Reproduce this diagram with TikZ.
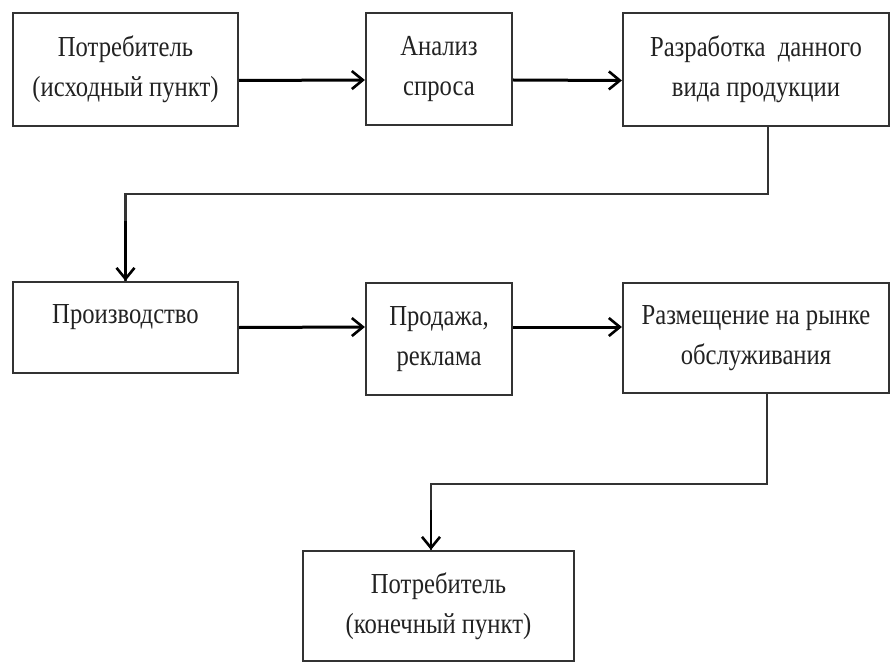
\documentclass[tikz,border=0pt]{standalone}
\usepackage{fontspec}
\setmainfont[FakeStretch=0.85]{Liberation Serif}
\usetikzlibrary{arrows.meta}
\definecolor{boxline}{HTML}{333333}
\definecolor{txt}{HTML}{222222}
\tikzset{
  box/.style={draw=boxline, line width=2.2pt, rectangle, inner sep=0pt, align=center,
    text=txt, font=\fontsize{29}{40}\selectfont},
  arr/.style={draw=black, line width=3pt, -{Straight Barb[length=11pt,width=18pt,line width=2.6pt]}},
  conn/.style={draw=boxline, line width=2.4pt},
}
\begin{document}
\begin{tikzpicture}[x=1pt,y=-1pt]
\useasboundingbox[fill=white] (0,0) rectangle (891,663);
\node[box, minimum width=225pt, minimum height=113pt] (b1) at (125.5,69.5) {Потребитель\\(исходный пункт)};
\node[box, minimum width=146pt, minimum height=112pt] (b2) at (439,69) {Анализ\\спроса};
\node[box, minimum width=266pt, minimum height=113pt] (b3) at (756,69.5) {Разработка\ \ данного\\вида продукции};
\node[box, minimum width=225pt, minimum height=91pt, text depth=26pt] (b4) at (125.5,327.5) {Производство};
\node[box, minimum width=146pt, minimum height=112pt] (b5) at (439,339) {Продажа,\\реклама};
\node[box, minimum width=266pt, minimum height=110pt] (b6) at (756,338) {Размещение на рынке\\обслуживания};
\node[box, minimum width=271pt, minimum height=110pt] (b7) at (438.5,606) {Потребитель\\(конечный пункт)};

\draw[arr] ([yshift=-11pt]b1.east) -- ([yshift=-11pt]b2.west);
\draw[arr] ([yshift=-11pt]b2.east) -- ([yshift=-11pt]b3.west);
\draw[arr] (b4.east) -- ([yshift=12pt]b5.west);
\draw[arr] ([yshift=12pt]b5.east) -- ([yshift=11pt]b6.west);

\draw[conn] ([xshift=12pt]b3.south) -- ++(0,67) -| (b4.north);
\draw[arr, line width=2.6pt] ([xshift=0pt]b4.north) ++(0,-60) -- (b4.north);
\draw[conn] ([xshift=11pt]b6.south) -- ++(0,90) -| ([xshift=-7.5pt]b7.north);
\draw[arr, line width=2.6pt] ([xshift=-7.5pt]b7.north) ++(0,-40) -- ([xshift=-7.5pt]b7.north);
\end{tikzpicture}
\end{document}
